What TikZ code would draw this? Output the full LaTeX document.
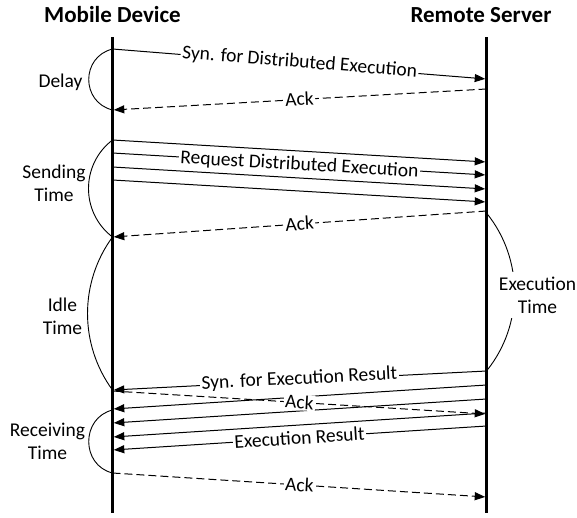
\documentclass[tikz,border=0pt]{standalone}
\usepackage{fontspec}
\setmainfont{Carlito}
\usetikzlibrary{arrows.meta}
\begin{document}
\begin{tikzpicture}[x=1pt,y=-1pt,
  life/.style={line width=2.6pt},
  msg/.style={line width=1pt},
  ack/.style={line width=1pt, dash pattern=on 8pt off 4pt},
  tip/.style={-{Triangle[length=10.5pt,width=8pt]}, shorten >=1.3pt},
  span/.style={line width=0.9pt},
  lbl/.style={font=\fontsize{19.5}{23}\selectfont, align=center, inner sep=0pt},
  onl/.style={font=\fontsize{19.5}{23}\selectfont, fill=white, inner sep=1.5pt,
              text height=12.5pt, text depth=0pt, sloped, midway},
  head/.style={font=\fontsize{23}{27}\selectfont\bfseries, anchor=base}
]
\useasboundingbox (0,0) rectangle (577,517);

% lifelines
\def\XL{112.5}
\def\XR{486.5}
\node[head] (mobile) at (112.5,22.7) {Mobile Device};
\node[head] (server) at (481,22.7) {Remote Server};
\coordinate (Ltop) at (\XL,37);
\coordinate (Lbot) at (\XL,513);
\coordinate (Rtop) at (\XR,37);
\coordinate (Rbot) at (\XR,513);
\draw[life] (Ltop) -- (Lbot);
\draw[life] (Rtop) -- (Rbot);

% end points on the mobile lifeline
\coordinate (L1) at (\XL,49);
\coordinate (L2) at (\XL,110);
\coordinate (Lq1) at (\XL,140);
\coordinate (Lq2) at (\XL,153);
\coordinate (Lq3) at (\XL,167);
\coordinate (Lq4) at (\XL,180);
\coordinate (L3) at (\XL,237);
\coordinate (L4) at (\XL,390);
\coordinate (L5) at (\XL,391);
\coordinate (Le1) at (\XL,409);
\coordinate (Le2) at (\XL,423);
\coordinate (Le3) at (\XL,437);
\coordinate (Le4) at (\XL,450);
\coordinate (Lr) at (\XL,410);
\coordinate (L6) at (\XL,473);

% end points on the server lifeline
\coordinate (R1) at (\XR,79);
\coordinate (R2) at (\XR,89);
\coordinate (Rq1) at (\XR,162);
\coordinate (Rq2) at (\XR,175);
\coordinate (Rq3) at (\XR,189);
\coordinate (Rq4) at (\XR,202);
\coordinate (R3) at (\XR,211);
\coordinate (Rx) at (\XR,213);
\coordinate (R4) at (\XR,371);
\coordinate (R5) at (\XR,414);
\coordinate (Re1) at (\XR,385);
\coordinate (Re2) at (\XR,399);
\coordinate (Re3) at (\XR,413);
\coordinate (Re4) at (\XR,426);
\coordinate (R6) at (\XR,497);

% messages
\draw[msg,tip] (L1) -- (R1);
\draw[ack,tip] (R2) -- (L2);
\draw[msg,tip] (Lq1) -- (Rq1);
\draw[msg,tip] (Lq2) -- (Rq2);
\draw[msg,tip] (Lq3) -- (Rq3);
\draw[msg,tip] (Lq4) -- (Rq4);
\draw[ack,tip] (R3) -- (L3);
\draw[msg,tip] (R4) -- (L4);
\draw[ack,tip] (L5) -- (R5);
\draw[msg,tip] (Re1) -- (Le1);
\draw[msg,tip] (Re2) -- (Le2);
\draw[msg,tip] (Re3) -- (Le3);
\draw[msg,tip] (Re4) -- (Le4);
\draw[ack,tip] (L6) -- (R6);

% time spans
\draw[span] (L1) .. controls +(-31.7,7.9) and +(-31.7,-7.9) .. (L2);
\draw[span] (Lq1) .. controls +(-32,24.4) and +(-32,-24.4) .. (L3);
\draw[span] (L3) .. controls +(-33.3,45.5) and +(-33.3,-45.5) .. (L4);
\draw[span] (Lr) .. controls +(-31.7,7.9) and +(-31.7,-7.9) .. (L6);
\draw[span] (Rx) .. controls +(37.3,46) and +(37.3,-46) .. (R4);

% message labels
\path (L1) -- (R1) node[onl, yshift=2.5pt] (t1) {Syn. for Distributed Execution};
\path (R2) -- (L2) node[onl] (t2) {Ack};
\path (Lq2) -- (Rq2) node[onl] (t3) {Request Distributed Execution};
\path (R3) -- (L3) node[onl] (t4) {Ack};
\path (R4) -- (L4) node[onl, yshift=2.5pt] (t5) {Syn. for Execution Result};
\path (L5) -- (R5) node[onl] (t6) {Ack};
\path (Re4) -- (Le4) node[onl] (t7) {Execution Result};
\path (L6) -- (R6) node[onl] (t8) {Ack};

% span labels
\node[lbl] (delay) at (60.5,82) {Delay};
\node[lbl] (sending) at (54,183.5) {Sending\\Time};
\node[lbl] (idle) at (62.5,316.5) {Idle\\Time};
\node[lbl] (receiving) at (47.5,441) {Receiving\\Time};
\node[lbl, fill=white, inner sep=5pt] (exec) at (537.5,295) {Execution\\Time};
\end{tikzpicture}
\end{document}
